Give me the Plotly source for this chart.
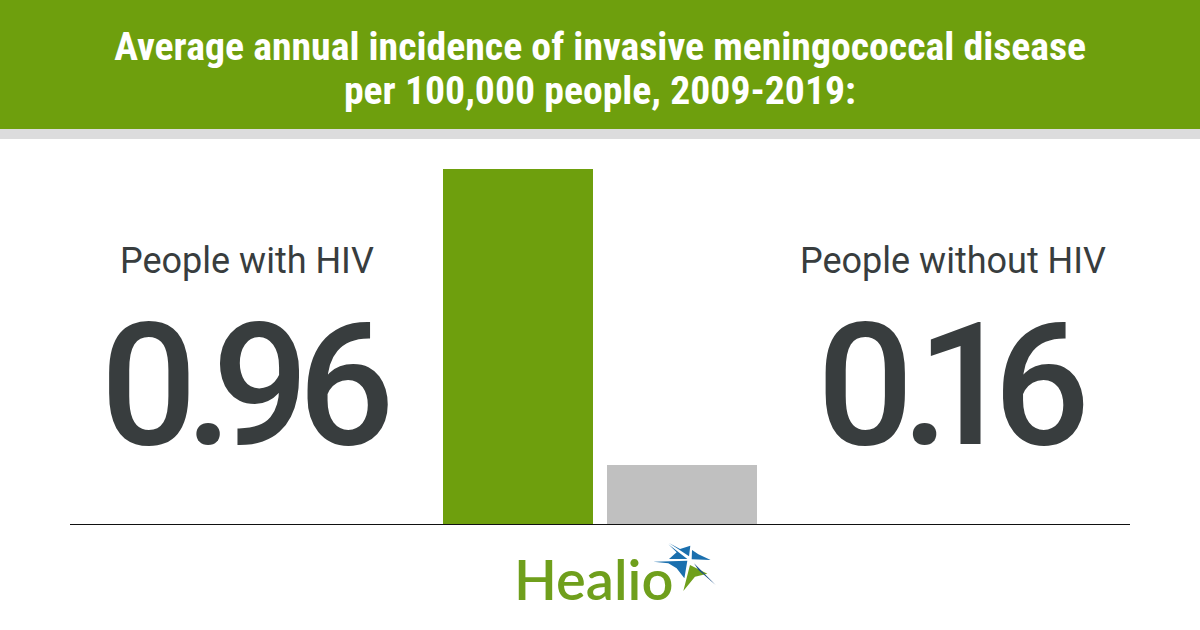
import json
import plotly.graph_objects as go

# basic data
groups = ['People with HIV', 'People without HIV']
rates = [0.96, 0.16]
rate_labels = ['0.96', '0.16']
bar_colors = ['#6e9f0d', '#c0c0c0']
title_lines = ['Average annual incidence of invasive meningococcal disease',
               'per 100,000 people, 2009-2019:']

W = 1200
H = 630
GREEN = '#6e9f0d'
DARK = '#383d3e'


# the page is laid out in pixels from the top left corner
def px(x):
    return (x - 70) / 1060


def py(y):
    return (524 - y) / 355


def star_path(points):
    cmds = []
    for zx, zy in points:
        cmds.append('%.4f,%.4f' % (px(645 + zx / 3), py(535 + zy / 3)))
    return 'M' + ' L'.join(cmds) + ' Z'


star = [
    ([(72, 24), (105, 42), (136, 32), (132, 64)], '#1a6fae'),
    ([(70, 28), (127, 72), (72, 72), (95, 52)], '#1a6fae'),
    ([(141, 45), (160, 58), (197, 75), (140, 73)], '#1a6fae'),
    ([(25, 80), (127, 77), (118, 130), (95, 100), (70, 85)], '#1a6fae'),
    ([(115, 168), (135, 90), (187, 116), (150, 125)], '#6f9f1c'),
    ([(147, 85), (212, 150), (160, 105)], '#1c4f86'),
]

fig = go.Figure(go.Bar(x=groups, y=rates, width=150 / 164,
                       marker=dict(color=bar_colors, line=dict(width=0))))

# header band
fig.add_shape(type='rect', xref='paper', yref='paper', x0=px(0), x1=px(W), y0=py(129), y1=py(0),
              fillcolor=GREEN, line_width=0, layer='below')
fig.add_shape(type='rect', xref='paper', yref='paper', x0=px(0), x1=px(W), y0=py(139), y1=py(129),
              fillcolor='#dcdcdd', line_width=0, layer='below')

# baseline
fig.add_shape(type='line', xref='paper', yref='paper', x0=0, x1=1, y0=py(524.5), y1=py(524.5),
              line=dict(color='#111111', width=1))

for line, y in zip(title_lines, [47, 91]):
    fig.add_annotation(text=line, xref='paper', yref='paper', x=px(600), y=py(y), showarrow=False,
                       xanchor='center', yanchor='middle',
                       font=dict(family='Roboto Condensed, Roboto', size=38, color='white', weight='bold'))

for name, cx in zip(groups, [247, 953]):
    fig.add_annotation(text=name, xref='paper', yref='paper', x=px(cx), y=py(261), showarrow=False,
                       xanchor='center', yanchor='middle',
                       font=dict(family='Roboto', size=36, color=DARK))

for value, cx in zip(rate_labels, [247, 953.5]):
    fig.add_annotation(text=value, xref='paper', yref='paper', x=px(cx), y=py(386), showarrow=False,
                       xanchor='center', yanchor='middle',
                       font=dict(family='Roboto', size=170, color=DARK, weight=500))

# logo
fig.add_annotation(text='Healio', xref='paper', yref='paper', x=px(512), y=py(578), showarrow=False,
                   xanchor='left', yanchor='middle',
                   font=dict(family='Lato', size=56, color='#6f9f1c', weight=600))
for points, color in star:
    fig.add_shape(type='path', xref='paper', yref='paper', path=star_path(points),
                  fillcolor=color, line_width=0)

fig.update_layout(
    width=W, height=H,
    margin=dict(l=70, r=70, t=169, b=106, pad=0),
    paper_bgcolor='white', plot_bgcolor='white',
    showlegend=False, bargap=0,
    xaxis=dict(range=[-448 / 164, 612 / 164], visible=False, fixedrange=True),
    yaxis=dict(range=[0, 0.96], visible=False, fixedrange=True),
)

# plotly has no letter spacing or condensed width, so set them on the finished text
title_widths = dict(zip(title_lines, [972, 512]))
glyph_shift = dict(zip(rate_labels, ['0 -12 -20 -11', '0 -12 -32 -20']))
post = """
document.body.style.margin = '0';
var widths = %s;
var shifts = %s;
document.querySelectorAll('text.annotation-text').forEach(function (t) {
    var s = t.textContent;
    if (widths[s]) {
        t.setAttribute('textLength', widths[s]);
        t.setAttribute('lengthAdjust', 'spacingAndGlyphs');
    }
    if (shifts[s]) {
        t.setAttribute('dx', shifts[s]);
    }
});
""" % (json.dumps(title_widths), json.dumps(glyph_shift))

fig.write_html('out.html', post_script=post, config=dict(displayModeBar=False))
